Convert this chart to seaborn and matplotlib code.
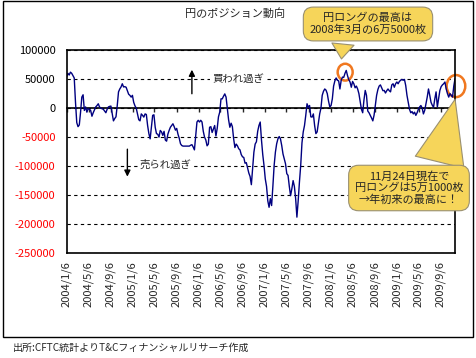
import pandas as pd
import seaborn as sns
import matplotlib.pyplot as plt
import matplotlib.dates as mdates
from matplotlib.patches import Ellipse, Rectangle

# weekly CFTC yen net position (contracts)
net_position = [
    54000, 60000, 57000, 62000, 60000, 56000, 52000, 10000, -25000, -32000,
    -29000, -7000, 19000, 23000, -4000, 2000, -7000, -1000, -2000, -4000,
    -14000, -8000, -3000, 2000, 4500, 7500, 2000, 0, -1000, -2000,
    -5000, -8000, -2000, 2000, 3000, 3500, -9000, -22000, -18000, -15000,
    4500, 28000, 33000, 36500, 42000, 36500, 37000, 36000, 30000, 24000,
    22000, 19000, 22000, 10000, 4000, 0, -10000, -20000, -22000, -10000,
    -12500, -15500, -10000, -11000, -30000, -44000, -53000, -33000, -12500, -11500,
    -33000, -44000, -45000, -50000, -38500, -41000, -47000, -40000, -55000, -57000,
    -45000, -38500, -33000, -30000, -27000, -32000, -38000, -35000, -45000, -52000,
    -61500, -64500, -65500, -65500, -65500, -65500, -65500, -65500, -64000, -63000,
    -67000, -72000, -47000, -24000, -21000, -24000, -21000, -24000, -40000, -50000,
    -55000, -65000, -62000, -33000, -32000, -42000, -36000, -30000, -48000, -35000,
    -15000, -7000, 16000, 16000, 20500, 24500, 19000, -1000, -20000, -33000,
    -26000, -32000, -53000, -68000, -62000, -65000, -70000, -72000, -80000, -84000,
    -85000, -95000, -94000, -103000, -112000, -118000, -132000, -105000, -76000, -62000,
    -58000, -40000, -30000, -24000, -55000, -80000, -99000, -122000, -135000, -160000,
    -171000, -156000, -168000, -135000, -99000, -76000, -61500, -53000, -49000, -53000,
    -64500, -79000, -87500, -96000, -113000, -116000, -135000, -151000, -139000, -125000,
    -135000, -156000, -188000, -160000, -127500, -99000, -60000, -41000, -30000, -12500,
    7500, 1500, 4500, -15000, -15500, -10000, -30000, -44000, -41000, -25000,
    -10000, 0, 22000, 29000, 33000, 31000, 25000, 12000, 2000, 4500,
    16000, 38000, 47000, 52000, 48000, 47000, 33000, 48000, 53500, 53000,
    60000, 65000, 56000, 49000, 45000, 36000, 46000, 42000, 35000, 38000,
    33000, 25000, 12000, -2000, -8000, 14000, 30500, 22000, -5000, -8000,
    -12500, -17000, -22000, -12000, 4500, 22000, 32000, 38000, 40000, 35000,
    30000, 30500, 26000, 30000, 33000, 30000, 28000, 40000, 42000, 36000,
    42000, 45000, 42000, 46000, 48000, 49500, 48000, 49500, 39000, 22000,
    10000, -2000, -8000, -6000, -10000, -7000, -12500, -8000, -2000, 2000,
    4500, 0, -10000, -4000, 7500, 19000, 33000, 22000, 10000, 5000,
    1500, 16000, 28000, 2000, 16000, 30500, 37000, 40000, 42000, 45000,
    33000, 25000, 19000, 25000, 22000, 19000, 38000, 51000,
]
dates = pd.date_range("2004-01-06", "2009-11-24", freq="7D")

tick_labels = [
    "2004/1/6", "2004/5/6", "2004/9/6", "2005/1/6", "2005/5/6", "2005/9/6",
    "2006/1/6", "2006/5/6", "2006/9/6", "2007/1/6", "2007/5/6", "2007/9/6",
    "2008/1/6", "2008/5/6", "2008/9/6", "2009/1/6", "2009/5/6", "2009/9/6",
]
y_ticks = [100000, 50000, 0, -50000, -100000, -150000, -200000, -250000]

title = "円のポジション動向"
source = "出所:CFTC統計よりT&Cフィナンシャルリサーチ作成"
note_peak = "円ロングの最高は\n2008年3月の6万5000枚"
note_now = "11月24日現在で\n円ロングは5万1000枚\n→年初来の最高に！"

sns.set_style("white")
plt.rcParams["font.family"] = ["Noto Sans CJK JP", "DejaVu Sans"]
plt.rcParams["axes.unicode_minus"] = False

fig = plt.figure(figsize=(4.76, 3.58), dpi=100)
ax = fig.add_axes([0.140, 0.293, 0.816, 0.567])

df = pd.DataFrame({"date": dates, "position": net_position})
sns.lineplot(data=df, x="date", y="position", color="#000080", lw=1, ax=ax)

ax.set_xlim(dates[0], dates[-1])
ax.set_ylim(-250000, 100000)
ax.set_yticks(y_ticks)
ax.set_yticklabels([str(v) for v in y_ticks])
for lab, v in zip(ax.get_yticklabels(), y_ticks):
    lab.set_color("red" if v < 0 else "black")
tick_dates = pd.to_datetime(tick_labels, format="%Y/%m/%d")
ax.set_xticks(tick_dates)
ax.set_xticklabels(tick_labels, rotation=90)
ax.tick_params(axis="y", length=0, pad=8, labelsize=8)
ax.tick_params(axis="x", length=0, pad=6, labelsize=8)
ax.set_xlabel("")
ax.set_ylabel("")

ax.yaxis.grid(True, linestyle=(0, (3, 3)), color="black", lw=0.8)
ax.xaxis.grid(False)
for s in ax.spines.values():
    s.set_color("black")
    s.set_linewidth(1.2)

# zero line with its own tick marks
sec = ax.secondary_xaxis(250000 / 350000)
sec.set_xticks(mdates.date2num(tick_dates))
sec.tick_params(direction="in", length=3, width=1, labeltop=False, labelbottom=False)
for s in sec.spines.values():
    s.set_linewidth(1.2)
    s.set_color("black")

# overbought / oversold notes
ax.annotate("", xy=(pd.Timestamp("2005-11-29"), 71000), xytext=(pd.Timestamp("2005-11-29"), 20000),
            arrowprops=dict(arrowstyle="-|>", color="black", lw=1, mutation_scale=9))
ax.text(pd.Timestamp("2006-03-21"), 50000, "買われ過ぎ", fontsize=7.5, va="center", ha="left",
        bbox=dict(fc="white", ec="none", pad=1.5))
ax.annotate("", xy=(pd.Timestamp("2004-12-07"), -123000), xytext=(pd.Timestamp("2004-12-07"), -66000),
            arrowprops=dict(arrowstyle="-|>", color="black", lw=1, mutation_scale=9))
ax.text(pd.Timestamp("2005-02-15"), -97000, "売られ過ぎ", fontsize=7.5, va="center", ha="left",
        bbox=dict(fc="white", ec="none", pad=1.5))

# orange circles
orange = "#F07820"
ax.add_patch(Ellipse((mdates.date2num(pd.Timestamp("2008-03-26")), 62000), 83, 29000,
                     fill=False, ec=orange, lw=1.8, clip_on=False))
ax.add_patch(Ellipse((mdates.date2num(pd.Timestamp("2009-11-29")), 38000), 103, 38000,
                     fill=False, ec=orange, lw=1.8, clip_on=False))

# callouts
yellow = "#F6D55A"
edge = "#9A9070"
ax.annotate(note_peak, xy=(pd.Timestamp("2008-03-04"), 80000), xytext=(368, 334),
            textcoords="figure pixels", ha="center", va="center", fontsize=8,
            linespacing=1.1, annotation_clip=False,
            bbox=dict(boxstyle="round,pad=0.55,rounding_size=0.9", fc=yellow, ec=edge, lw=0.8),
            arrowprops=dict(arrowstyle="wedge,tail_width=0.8", mutation_scale=20, relpos=(0.3, 0.3),
                            fc=yellow, ec=edge, lw=0.8))
ax.annotate(note_now, xy=(pd.Timestamp("2009-11-28"), 20000), xytext=(409, 170),
            textcoords="figure pixels", ha="center", va="center", fontsize=8,
            linespacing=1.1, annotation_clip=False,
            bbox=dict(boxstyle="round,pad=0.55,rounding_size=0.9", fc=yellow, ec=edge, lw=0.8),
            arrowprops=dict(arrowstyle="wedge,tail_width=1.8", mutation_scale=20, relpos=(0.75, 0.85),
                            fc=yellow, ec=edge, lw=0.8))

fig.text(235 / 476, 1 - 13 / 358, title, ha="center", va="center", fontsize=8)
fig.text(13 / 476, 1 - 348 / 358, source, ha="left", va="center", fontsize=7.2)
fig.patches.append(Rectangle((3 / 476, 21 / 358), 469.5 / 476, 336 / 358, transform=fig.transFigure,
                             fill=False, ec="black", lw=1))

fig.savefig("out.png", dpi=100)
